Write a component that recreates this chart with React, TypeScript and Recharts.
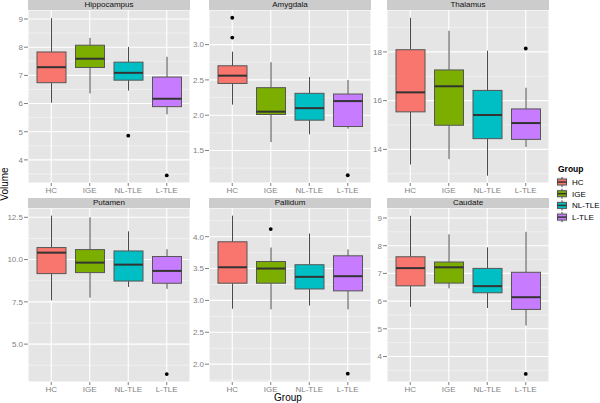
import { ComposedChart, Bar, Scatter, XAxis, YAxis, CartesianGrid } from "recharts"

const groups = ["HC", "IGE", "NL-TLE", "L-TLE"]
const groupColors = ["#F8766D", "#7CAE00", "#00BFC4", "#C77CFF"]

// [lower whisker, Q1, median, Q3, upper whisker] for HC, IGE, NL-TLE, L-TLE
const hippocampus = [
  [6.03, 6.74, 7.29, 7.83, 9.03],
  [6.36, 7.28, 7.59, 8.07, 8.33],
  [6.46, 6.83, 7.09, 7.47, 8.01],
  [5.62, 5.89, 6.17, 6.94, 7.66],
]
const hippocampusOut = [[], [], [4.86], [3.45]]

const amygdala = [
  [2.15, 2.45, 2.56, 2.7, 2.9],
  [1.62, 2.01, 2.05, 2.39, 2.75],
  [1.73, 1.93, 2.1, 2.31, 2.54],
  [1.81, 1.84, 2.2, 2.3, 2.5],
]
const amygdalaOut = [[3.38, 3.1], [], [], [1.15]]

const thalamus = [
  [13.38, 15.54, 16.34, 18.09, 19.4],
  [13.6, 14.99, 16.59, 17.26, 18.87],
  [12.92, 14.44, 15.41, 16.42, 18.05],
  [14.1, 14.41, 15.08, 15.66, 16.53],
]
const thalamusOut = [[], [], [], [18.14]]

const putamen = [
  [7.59, 9.17, 10.41, 10.71, 12.6],
  [7.75, 9.23, 9.82, 10.59, 12.5],
  [8.38, 8.73, 9.7, 10.51, 11.67],
  [8.27, 8.6, 9.33, 10.18, 10.61],
]
const putamenOut = [[], [], [], [3.23]]

const pallidum = [
  [2.87, 3.27, 3.52, 3.92, 4.33],
  [2.86, 3.27, 3.5, 3.61, 3.83],
  [2.92, 3.18, 3.37, 3.56, 4.05],
  [2.86, 3.15, 3.38, 3.7, 3.8],
]
const pallidumOut = [[], [4.12], [], [1.85]]

const caudate = [
  [5.79, 6.55, 7.19, 7.6, 9.08],
  [6.46, 6.65, 7.22, 7.41, 8.41],
  [5.75, 6.3, 6.54, 7.18, 7.94],
  [5.12, 5.7, 6.14, 7.04, 8.5],
]
const caudateOut = [[], [], [], [3.37]]

const FONT = "'Liberation Sans', Arial, sans-serif"
const AXIS_W = 30
const PANEL_W = 162

const buildRows = (stats: number[][], out: number[][]) =>
  groups.map((g, i) => ({
    g,
    box: [stats[i][1], stats[i][3]],
    lo: stats[i][0],
    q1: stats[i][1],
    med: stats[i][2],
    q3: stats[i][3],
    hi: stats[i][4],
    o1: out[i][0] ?? null,
    o2: out[i][1] ?? null,
  }))

function BoxShape(props: any) {
  const { x, y, width, height, payload } = props
  const top = Math.min(y, y + height)
  const h = Math.abs(height)
  const k = h / (payload.q3 - payload.q1)
  const py = (v: number) => top + (payload.q3 - v) * k
  const cx = x + width / 2
  const color = groupColors[groups.indexOf(payload.g)]
  return (
    <g>
      <line x1={cx} x2={cx} y1={py(payload.hi)} y2={top} stroke="#4a4a4a" />
      <line x1={cx} x2={cx} y1={top + h} y2={py(payload.lo)} stroke="#4a4a4a" />
      <rect x={x} y={top} width={width} height={h} fill={color} stroke="#555" />
      <line x1={x} x2={x + width} y1={py(payload.med)} y2={py(payload.med)} stroke="#333" strokeWidth={2} />
    </g>
  )
}

function Dot(props: any) {
  const { cx, cy } = props
  if (cx == null || cy == null || !isFinite(cx) || !isFinite(cy)) return <g />
  return <circle cx={cx} cy={cy} r={1.9} fill="#000" />
}

const tickStyle = { fontSize: 8, fill: "#7F7F7F", stroke: "none", fontFamily: FONT }

function Panel(p: {
  title: string
  stats: number[][]
  out: number[][]
  domain: [number, number]
  ticks: number[]
  minor: number[]
  digits: number
  left: number
  top: number
  h: number
}) {
  const rows = buildRows(p.stats, p.out)
  return (
    <>
      <div
        style={{
          position: "absolute",
          left: p.left,
          top: p.top - 10,
          width: PANEL_W,
          height: 10,
          background: "#CCCCCC",
          fontSize: 8,
          lineHeight: "10px",
          textAlign: "center",
          color: "#111",
        }}
      >
        {p.title}
      </div>
      <div style={{ position: "absolute", left: p.left - AXIS_W, top: p.top }}>
        <ComposedChart
          width={AXIS_W + PANEL_W}
          height={p.h + 16}
          data={rows}
          margin={{ top: 0, right: 0, bottom: 0, left: 0 }}
          barSize={29}
        >
          <CartesianGrid
            fill="#E5E5E5"
            stroke="#F2F2F2"
            strokeWidth={0.8}
            vertical={false}
            horizontalValues={p.minor}
          />
          <CartesianGrid stroke="#FFFFFF" strokeWidth={1.1} />
          <XAxis
            dataKey="g"
            type="category"
            padding={{ left: 4, right: 4 }}
            height={16}
            tickSize={3}
            tickMargin={1}
            axisLine={false}
            tickLine={{ stroke: "#7F7F7F" }}
            tick={tickStyle}
            interval={0}
          />
          <YAxis
            type="number"
            domain={p.domain}
            allowDataOverflow
            ticks={p.ticks}
            width={AXIS_W}
            tickSize={4}
            tickMargin={1}
            axisLine={false}
            tickLine={{ stroke: "#7F7F7F" }}
            tick={tickStyle}
            tickFormatter={(v: number) => v.toFixed(p.digits)}
          />
          <Bar dataKey="box" shape={<BoxShape />} isAnimationActive={false} />
          <Scatter dataKey="o1" shape={<Dot />} isAnimationActive={false} />
          <Scatter dataKey="o2" shape={<Dot />} isAnimationActive={false} />
        </ComposedChart>
      </div>
    </>
  )
}

const panels = [
  { title: "Hippocampus", stats: hippocampus, out: hippocampusOut, domain: [3.18, 9.32] as [number, number], ticks: [4, 5, 6, 7, 8, 9], minor: [3.5, 4.5, 5.5, 6.5, 7.5, 8.5], digits: 0, left: 28, top: 10, h: 173 },
  { title: "Amygdala", stats: amygdala, out: amygdalaOut, domain: [1.04, 3.49] as [number, number], ticks: [1.5, 2, 2.5, 3], minor: [1.25, 1.75, 2.25, 2.75, 3.25], digits: 1, left: 209, top: 10, h: 173 },
  { title: "Thalamus", stats: thalamus, out: thalamusOut, domain: [12.62, 19.72] as [number, number], ticks: [14, 16, 18], minor: [13, 15, 17, 19], digits: 0, left: 387, top: 10, h: 173 },
  { title: "Putamen", stats: putamen, out: putamenOut, domain: [2.76, 13.05] as [number, number], ticks: [5, 7.5, 10, 12.5], minor: [3.75, 6.25, 8.75, 11.25], digits: 1, left: 28, top: 208, h: 174 },
  { title: "Pallidum", stats: pallidum, out: pallidumOut, domain: [1.72, 4.45] as [number, number], ticks: [2, 2.5, 3, 3.5, 4], minor: [1.75, 2.25, 2.75, 3.25, 3.75, 4.25], digits: 1, left: 209, top: 208, h: 174 },
  { title: "Caudate", stats: caudate, out: caudateOut, domain: [3.08, 9.36] as [number, number], ticks: [4, 5, 6, 7, 8, 9], minor: [3.5, 4.5, 5.5, 6.5, 7.5, 8.5], digits: 0, left: 387, top: 208, h: 174 },
]

function Legend() {
  return (
    <svg style={{ position: "absolute", left: 555, top: 160 }} width={45} height={64}>
      <text x={3} y={12} fontSize={8.5} fontWeight="bold" fontFamily={FONT} fill="#000">
        Group
      </text>
      {groups.map((g, i) => {
        const cy = 22 + i * 11.7
        return (
          <g key={g}>
            <rect x={1} y={cy - 5.5} width={12} height={11} fill="#F2F2F2" stroke="#fff" />
            <line x1={7} x2={7} y1={cy - 5} y2={cy + 5} stroke="#444" />
            <rect x={2.5} y={cy - 3} width={9} height={6} fill={groupColors[i]} stroke="#555" />
            <line x1={2.5} x2={11.5} y1={cy} y2={cy} stroke="#333" strokeWidth={1.5} />
            <text x={17} y={cy + 3} fontSize={8} fontFamily={FONT} fill="#000">
              {g}
            </text>
          </g>
        )
      })}
    </svg>
  )
}

export default function App() {
  return (
    <div
      style={{
        position: "absolute",
        left: 0,
        top: 0,
        width: 600,
        height: 403,
        background: "#fff",
        fontFamily: FONT,
        overflow: "hidden",
      }}
    >
      {panels.map((p) => (
        <Panel key={p.title} {...p} />
      ))}
      <div
        style={{
          position: "absolute",
          left: 5 - 20,
          top: 184 - 6,
          width: 40,
          height: 12,
          fontSize: 10,
          lineHeight: "12px",
          textAlign: "center",
          transform: "rotate(-90deg)",
        }}
      >
        Volume
      </div>
      <div
        style={{
          position: "absolute",
          left: 288 - 30,
          top: 392,
          width: 60,
          fontSize: 10,
          lineHeight: "12px",
          textAlign: "center",
        }}
      >
        Group
      </div>
      <Legend />
    </div>
  )
}
